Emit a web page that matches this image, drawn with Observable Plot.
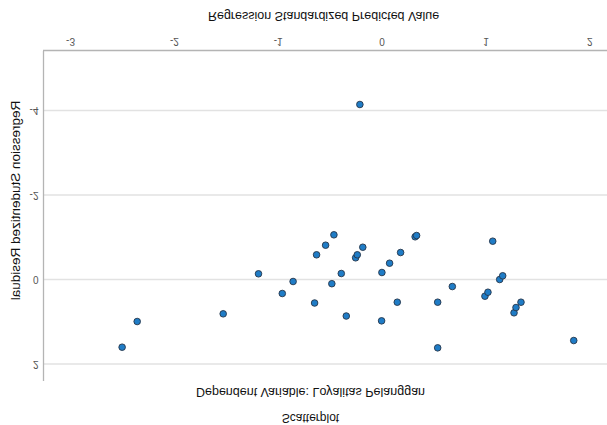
<!DOCTYPE html>
<html><head><meta charset="utf-8">
<script src="https://cdn.jsdelivr.net/npm/d3@7"></script>
<script src="https://cdn.jsdelivr.net/npm/@observablehq/plot@0.6"></script>
<style>
html,body{margin:0;padding:0;background:#fff;}
#chart svg{display:block;transform:scaleY(-1);}
</style></head><body><div id="chart"></div>
<script>
// Regression Standardized Predicted Value
const predicted = [-2.503, -2.358, -1.530, -1.190, -0.961, -0.857, -0.650, -0.631, -0.544, -0.464,
  -0.484, -0.393, -0.345, -0.255, -0.239, -0.186, -0.002, -0.005, 0.072, 0.178,
  0.146, 0.318, 0.332, 0.535, 0.535, 0.676, 1.065, 0.990, 1.019, 1.132,
  1.161, 1.270, 1.289, 1.337, 1.845, -0.214];
// Regression Studentized Residual
const residual = [1.602, 0.994, 0.812, -0.135, 0.331, 0.047, 0.556, -0.585, -0.812, -1.058,
  0.099, -0.142, 0.864, -0.514, -0.585, -0.764, -0.166, 0.978, -0.386, -0.639,
  0.537, -1.011, -1.041, 0.537, 1.617, 0.166, -0.907, 0.395, 0.301, 0.000,
  -0.088, 0.788, 0.663, 0.537, 1.444, -4.142];
const xTicks = [-3, -2, -1, 0, 1, 2];
const yTicks = [-4, -2, 0, 2];
const title = "Scatterplot";
const subtitle = "Dependent Variable: Loyalitas Pelanggan";
const xLabel = "Regression Standardized Predicted Value";
const yLabel = "Regression Studentized Residual";

const data = predicted.map((x, i) => ({x, y: residual[i]}));
const xDomain = [-3.26, 2.17];
const yDomain = [-5.42, 2.39];
const fmt = d => String(d);

const chart = Plot.plot({
  width: 607, height: 425,
  marginTop: 44, marginBottom: 51, marginLeft: 43, marginRight: 0,
  style: {fontFamily: "'Liberation Sans', Arial, sans-serif", background: "#fff"},
  x: {domain: xDomain},
  y: {domain: yDomain},
  marks: [
    Plot.gridY(yTicks, {stroke: "#e2e2e2", strokeOpacity: 1, strokeWidth: 1.6}),
    Plot.ruleX([xDomain[0]], {stroke: "#b4b4b4", strokeWidth: 1.3}),
    Plot.ruleY([yDomain[0]], {stroke: "#b4b4b4", strokeWidth: 1.3}),
    Plot.axisX(xTicks, {tickSize: 0, tickPadding: 5, tickFormat: fmt, fontSize: 10, color: "#555", label: null}),
    Plot.axisY(yTicks, {tickSize: 0, tickPadding: 5, tickFormat: fmt, fontSize: 10, color: "#555", label: null}),
    Plot.dot(data, {x: "x", y: "y", r: 3.3, fill: "#1f7cc6", stroke: "#26354a", strokeWidth: 0.9}),
    Plot.text([title], {text: d => d, frameAnchor: "top", lineAnchor: "middle", textAnchor: "middle", dx: -15, dy: -37, fontSize: 12, fill: "#111"}),
    Plot.text([subtitle], {text: d => d, frameAnchor: "top", lineAnchor: "middle", textAnchor: "middle", dx: -15, dy: -11, fontSize: 12.5, fill: "#111"}),
    Plot.text([xLabel], {text: d => d, frameAnchor: "bottom", lineAnchor: "middle", textAnchor: "middle", dx: -2, dy: 34.5, fontSize: 12.5, fill: "#111"}),
    Plot.text([yLabel], {text: d => d, frameAnchor: "left", lineAnchor: "middle", textAnchor: "middle", rotate: -90, dx: -28, dy: 15, fontSize: 13.5, fill: "#111"})
  ]
});
document.getElementById("chart").append(chart);
</script>
</body></html>
